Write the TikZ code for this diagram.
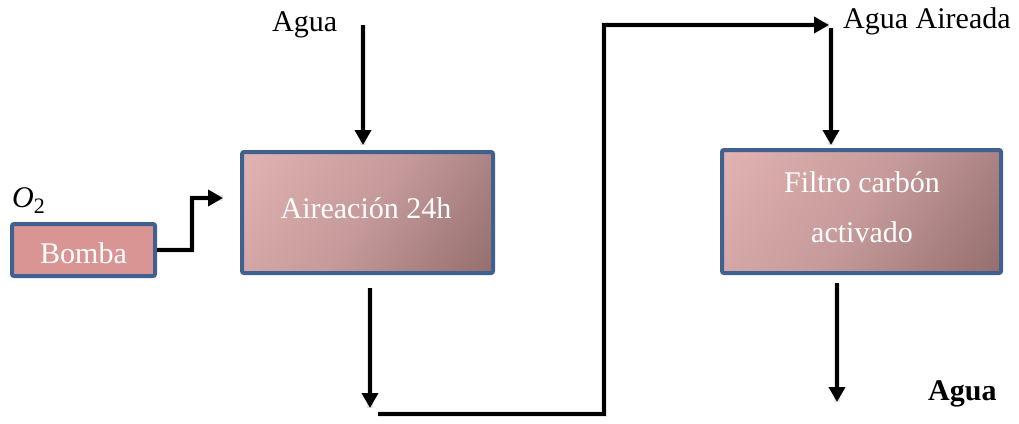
\documentclass[tikz,border=0pt]{standalone}
\usepackage{fontspec}
\setmainfont{Liberation Serif}
\usetikzlibrary{arrows.meta}

\definecolor{boxblue}{HTML}{3F6190}
\definecolor{pumpfill}{HTML}{D99594}
\definecolor{shadelight}{HTML}{EDBEBD}
\definecolor{shademid}{HTML}{C69A9A}
\definecolor{shadedark}{HTML}{7E5A5A}
\definecolor{flowshadow}{HTML}{9A9A9A}

% smooth linear gradient, light at the top, dark at the bottom
\pgfdeclareverticalshading{unitshade}{100bp}{%
  color(0bp)=(shadedark); color(50bp)=(shademid); color(100bp)=(shadelight)}

\tikzset{
  unitbox/.style={draw=boxblue, line width=4pt, rounded corners=2pt,
    inner sep=0pt, text=white},
  shadedbox/.style={unitbox, shading=unitshade, shading angle=55},
  pumpbox/.style={unitbox, fill=pumpfill},
  flow/.style={line width=4pt, line join=miter, draw=black,
    -{Triangle[length=15pt,width=16pt]},
    preaction={draw=flowshadow, line width=6pt, opacity=0.25, -}},
  lbl/.style={inner sep=0pt, font=\fontsize{30}{36}\selectfont},
  boxtext/.style={lbl, text=white},
}

\begin{document}
\begin{tikzpicture}[x=1pt,y=-1pt]
  \useasboundingbox (0,0) rectangle (1019,423);

  % process units
  \node[pumpbox, minimum width=143pt, minimum height=52pt] (bomba) at (83.5,250) {};
  \node[shadedbox, minimum width=251pt, minimum height=121pt] (aireacion) at (367.5,212.5) {};
  \node[shadedbox, minimum width=279pt, minimum height=123pt] (filtro) at (861.5,211.5) {};

  % texts inside the units
  \node[boxtext, anchor=base] (tbomba) at (83.5,263) {Bomba};
  \node[boxtext, anchor=base] (taire) at (366,218) {Aireación 24h};
  \node[boxtext, anchor=base] (tfiltro1) at (862,192) {Filtro carbón};
  \node[boxtext, anchor=base] (tfiltro2) at (862,242) {activado};

  % stream labels
  \node[lbl, anchor=base west] (aguain) at (272,31) {Agua};
  \node[lbl, anchor=base west] (aguaaireada) at (843,28) {Agua Aireada};
  \node[lbl, anchor=base west, font=\fontsize{30}{36}\selectfont\bfseries] (aguaout) at (928,400) {Agua};
  \node[lbl, anchor=base west] (oxigeno) at (12,207)
    {\textit{O}\raisebox{-6pt}{\fontsize{22}{26}\selectfont 2}};

  % connector end points
  \coordinate (inA) at (363,25);
  \coordinate (o2in) at (223,198);
  \coordinate (outA) at (370,288);
  \coordinate (outAend) at (370,408);
  \coordinate (retA) at (378,414);
  \coordinate (riser) at (604,25);
  \coordinate (topend) at (829,25);
  \coordinate (inF) at (831,28);
  \coordinate (outF) at (837,283);
  \coordinate (outFend) at (837,402);

  % streams
  \draw[flow, shorten >=5pt] (inA) -- (inA |- aireacion.north);
  \draw[flow] (bomba.east) -- ++(35,0) |- (o2in);
  \draw[flow] (outA) -- (outAend);
  \draw[flow] (retA) -| (riser) -- (topend);
  \draw[flow, shorten >=3pt] (inF) -- (inF |- filtro.north);
  \draw[flow] (outF) -- (outFend);
\end{tikzpicture}
\end{document}
